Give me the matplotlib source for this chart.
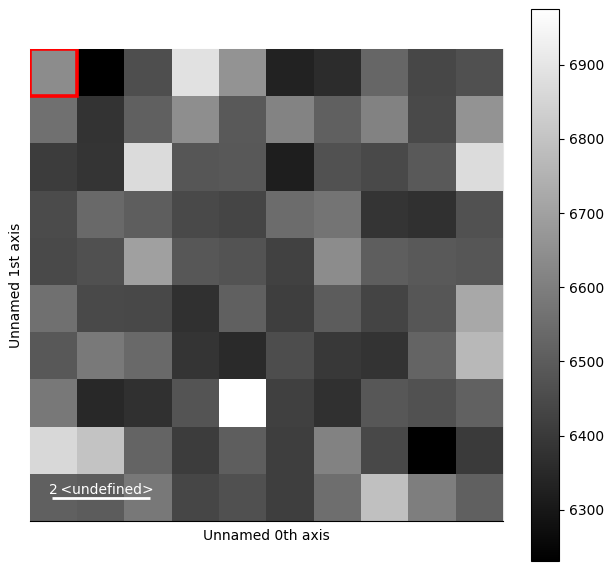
import numpy as np
import matplotlib
matplotlib.use("Agg")
import matplotlib.pyplot as plt
from matplotlib.patches import Rectangle

# intensity image
row0 = [6640, 6231, 6459, 6885, 6663, 6330, 6362, 6529, 6438, 6464]
row1 = [6558, 6380, 6511, 6645, 6494, 6616, 6511, 6610, 6444, 6663]
row2 = [6406, 6383, 6870, 6482, 6488, 6319, 6470, 6447, 6494, 6873]
row3 = [6450, 6537, 6505, 6447, 6432, 6546, 6569, 6386, 6374, 6470]
row4 = [6447, 6464, 6698, 6485, 6473, 6424, 6640, 6505, 6494, 6482]
row5 = [6558, 6447, 6441, 6371, 6511, 6412, 6499, 6429, 6482, 6721]
row6 = [6488, 6587, 6540, 6386, 6354, 6456, 6394, 6380, 6523, 6768]
row7 = [6581, 6348, 6371, 6476, 6975, 6418, 6371, 6485, 6470, 6517]
row8 = [6861, 6803, 6523, 6406, 6505, 6412, 6610, 6441, 6231, 6400]
row9 = [6511, 6499, 6581, 6435, 6464, 6412, 6552, 6791, 6599, 6511]

x_label = "Unnamed 0th axis"
y_label = "Unnamed 1st axis"
scale_text = "2\u2009<undefined>"
cbar_ticks = [6300, 6400, 6500, 6600, 6700, 6800, 6900]

data = np.array([row0, row1, row2, row3, row4, row5, row6, row7, row8, row9])

W, H = 614, 571
fig = plt.figure(figsize=(W / 100, H / 100), dpi=100)
ax = fig.add_axes([30 / W, 1 - 521 / H, 473 / W, 472 / H])
im = ax.imshow(data, cmap="gray", interpolation="nearest", extent=(0, 10, 10, 0), aspect="auto")
ax.set_xticks([])
ax.set_yticks([])
ax.set_xlabel(x_label)
ax.set_ylabel(y_label)
ax.xaxis.labelpad = 5.5
ax.yaxis.labelpad = 5

# bottom spine is black, the others only a faint line behind the image
for side in ["top", "left", "right"]:
    ax.spines[side].set_color("#e6e6e6")
    ax.spines[side].set_zorder(-1)

# selected pixel, clipped by the axes on its top and left
ax.add_patch(Rectangle((0, 0), 1, 1, fill=False, edgecolor="red", linewidth=2.6, clip_on=True))

# scale bar
ax.plot([0.46, 2.54], [9.51, 9.51], color="white", linewidth=2, solid_capstyle="butt")
ax.text(1.5, 9.43, scale_text, color="white", ha="center", va="baseline", fontsize=10)
ax.set_xlim(0, 10)
ax.set_ylim(10, 0)

cax = fig.add_axes([531 / W, 1 - 561 / H, 28 / W, 552 / H])
cbar = fig.colorbar(im, cax=cax)
cbar.set_ticks(cbar_ticks)

fig.savefig("out.png", dpi=100)
